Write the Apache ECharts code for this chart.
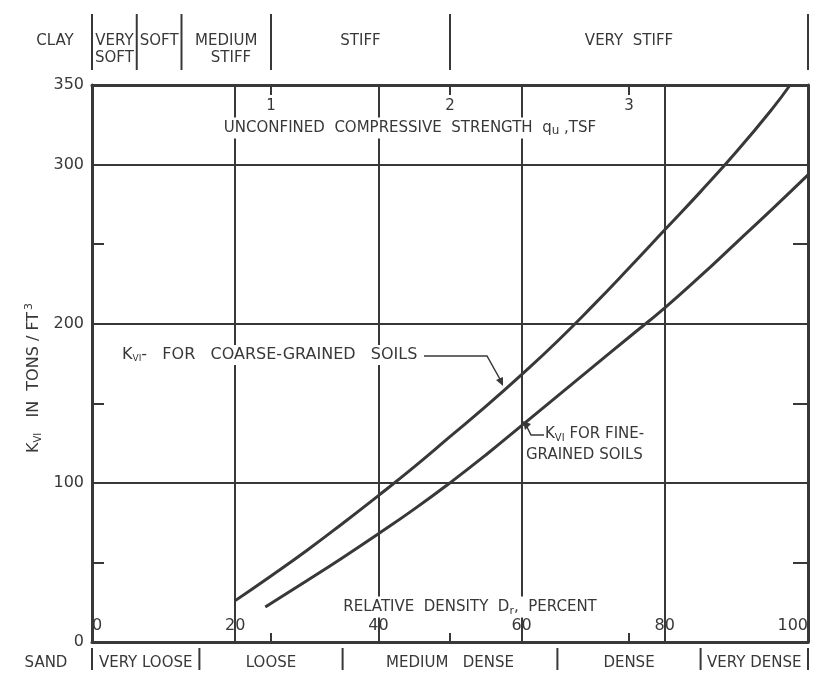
<!DOCTYPE html>
<html>
<head>
<meta charset="utf-8">
<script src="https://cdn.jsdelivr.net/npm/echarts@6/dist/echarts.min.js"></script>
<style>
  html, body { margin: 0; padding: 0; background: #fff; }
  #chart { width: 824px; height: 689px; }
</style>
</head>
<body>
<div id="chart"></div>
<script>
// Kvi vs relative density Dr (%)
const coarseDr = [20, 25, 30, 35, 40, 45, 50, 55, 60, 65, 70, 75, 80, 85, 90, 95, 97.5];
const coarseK  = [26, 41.5, 57.5, 74.5, 92, 110, 129, 148, 168, 189, 211.5, 235, 259, 283, 308, 335, 350];
const fineDr = [24.2, 30, 35, 40, 45, 50, 55, 60, 65, 70, 75, 80, 85, 90, 95, 100];
const fineK  = [22, 38.5, 53, 68, 83.5, 100, 117.5, 136, 154.5, 173, 191.5, 210, 230, 251, 272, 293.5];

const yLabels = [0, 100, 200, 300, 350];
const quLabels = [1, 2, 3];             // unconfined strength, TSF (top axis)
const clayBreaks = [0, 0.25, 0.5, 1, 2, 4];
const clayNames = ['VERY\nSOFT', 'SOFT', 'MEDIUM\n  STIFF', 'STIFF', 'VERY  STIFF'];
const sandBreaks = [0, 15, 35, 65, 85, 100];
const sandNames = ['VERY LOOSE', 'LOOSE', 'MEDIUM   DENSE', 'DENSE', 'VERY DENSE'];

const ink = '#383838';
const font = 'DejaVu Sans';

const chart = echarts.init(document.getElementById('chart'));

const frame = { show: true, onZero: false, lineStyle: { color: ink, width: 3 } };

const option = {
  backgroundColor: '#fff',
  animation: false,
  grid: { left: 92, right: 16, top: 85, bottom: 47 },
  xAxis: [
    {
      type: 'value', min: 0, max: 100, interval: 20, position: 'bottom',
      axisLine: frame,
      axisTick: { show: false },
      axisLabel: { inside: true, margin: 8, color: ink, fontSize: 16, fontFamily: font,
        alignMinLabel: 'left', alignMaxLabel: 'right' },
      splitLine: { show: true, lineStyle: { color: ink, width: 2 } }
    },
    {
      // qu scale on top: 1 TSF per 25 % Dr
      type: 'value', min: 0, max: 4, interval: 1, position: 'top',
      axisLine: frame,
      axisTick: { show: true, inside: true, length: 10, lineStyle: { color: ink, width: 2 } },
      axisLabel: { inside: true, margin: 14, color: ink, fontSize: 15, fontFamily: font,
        formatter: v => quLabels.includes(v) ? String(v) : '' },
      splitLine: { show: false }
    },
    {
      // same qu ticks repeated on the bottom edge
      type: 'value', min: 0, max: 4, interval: 1, position: 'bottom',
      axisLine: { show: false, onZero: false },
      axisTick: { show: true, inside: true, length: 9, lineStyle: { color: ink, width: 2 } },
      axisLabel: { show: false },
      splitLine: { show: false }
    }
  ],
  yAxis: [
    {
      type: 'value', min: 0, max: 350, interval: 50, position: 'left',
      axisLine: frame,
      axisTick: { show: true, inside: true, length: 12, lineStyle: { color: ink, width: 2 } },
      axisLabel: { margin: 8, color: ink, fontSize: 16, fontFamily: font,
        formatter: v => yLabels.includes(v) ? String(v) : '' },
      splitLine: { show: true, lineStyle: { color: [ink, 'rgba(0,0,0,0)'], width: 2 } }
    },
    {
      type: 'value', min: 0, max: 350, interval: 50, position: 'right',
      axisLine: frame,
      axisTick: { show: true, inside: true, length: 15, lineStyle: { color: ink, width: 2 } },
      axisLabel: { show: false },
      splitLine: { show: false }
    }
  ],
  series: [
    {
      name: 'coarse', type: 'line', smooth: true, showSymbol: false,
      xAxisIndex: 0, yAxisIndex: 0,
      lineStyle: { color: ink, width: 3 },
      data: coarseDr.map((d, i) => [d, coarseK[i]])
    },
    {
      name: 'fine', type: 'line', smooth: true, showSymbol: false,
      xAxisIndex: 0, yAxisIndex: 0,
      lineStyle: { color: ink, width: 3 },
      data: fineDr.map((d, i) => [d, fineK[i]])
    }
  ]
};
chart.setOption(option);

// band scales and labels placed from the axes
const qx = v => chart.convertToPixel({ xAxisIndex: 1 }, v);
const dx = v => chart.convertToPixel({ xAxisIndex: 0 }, v);
const txt = (text, x, y, extra) => ({
  type: 'text', z: 10,
  style: Object.assign({ text, x, y, fill: ink, font: '15px "' + font + '"', align: 'center', verticalAlign: 'middle' }, extra || {})
});
const seg = (x1, y1, x2, y2) => ({ type: 'line', shape: { x1, y1, x2, y2 }, style: { stroke: ink, lineWidth: 2 } });

const g = [];
clayBreaks.forEach(q => g.push(seg(qx(q), 14, qx(q), 70)));
clayNames.forEach((n, i) => {
  const cx = (qx(clayBreaks[i]) + qx(clayBreaks[i + 1])) / 2;
  g.push(txt(n, cx, 33, { verticalAlign: 'top', lineHeight: 17 }));
});
g.push(txt('CLAY', 55, 41));
sandBreaks.forEach(d => g.push(seg(dx(d), 648, dx(d), 670)));
sandNames.forEach((n, i) => {
  const cx = (dx(sandBreaks[i]) + dx(sandBreaks[i + 1])) / 2;
  g.push(txt(n, cx, 663));
});
g.push(txt('SAND', 46, 663));

// axis titles inside the frame
g.push(txt('UNCONFINED  COMPRESSIVE  STRENGTH  {s|q}{sub|u} ,TSF', 410, 128, {
  rich: { s: { fontSize: 15, fontFamily: font, fill: ink }, sub: { fontSize: 12, fontFamily: font, fill: ink, padding: [5, 0, 0, 0] } },
  backgroundColor: '#fff', padding: [2, 4]
}));
g.push(txt('RELATIVE  DENSITY  D{sub|r},  PERCENT', 470, 607, {
  rich: { sub: { fontSize: 11, fontFamily: font, fill: ink, padding: [8, 0, 0, 0] } },
  backgroundColor: '#fff', padding: [1, 4]
}));
// y title, rotated
g.push({
  type: 'text', z: 10, rotation: Math.PI / 2, x: 34, y: 378,
  style: {
    text: 'K{sub|VI}   IN  TONS / FT{sup|3}', x: 0, y: 0, fill: ink,
    font: '16px "' + font + '"', align: 'center', verticalAlign: 'middle',
    rich: {
      sub: { fontSize: 10, fontFamily: font, fill: ink, padding: [8, 0, 0, 0] },
      sup: { fontSize: 11, fontFamily: font, fill: ink, padding: [0, 0, 9, 2] }
    }
  }
});

// curve annotations
g.push(txt('K{sub|VI}-   FOR   COARSE-GRAINED   SOILS', 120, 355, {
  align: 'left', font: '16px "' + font + '"',
  rich: { sub: { fontSize: 9, fontFamily: font, fill: ink, padding: [7, 0, 0, 0] } },
  backgroundColor: '#fff', padding: [2, 2]
}));
g.push({ type: 'polyline', shape: { points: [[424, 356], [487, 356], [501, 381]] }, style: { stroke: ink, lineWidth: 1.5, fill: null } });
g.push({ type: 'polygon', shape: { points: [[503, 386], [496, 380], [503, 377]] }, style: { fill: ink } });

g.push(txt('K{sub|VI} FOR FINE-', 545, 434, {
  align: 'left',
  rich: { sub: { fontSize: 10, fontFamily: font, fill: ink, padding: [8, 0, 0, 0] } }
}));
g.push(txt('GRAINED SOILS', 526, 455, { align: 'left' }));
g.push({ type: 'polyline', shape: { points: [[526, 425], [531, 435], [544, 435]] }, style: { stroke: ink, lineWidth: 1.5, fill: null } });
g.push({ type: 'polygon', shape: { points: [[523, 421], [531, 424], [525, 430]] }, style: { fill: ink } });

chart.setOption({ graphic: g });
</script>
</body>
</html>
